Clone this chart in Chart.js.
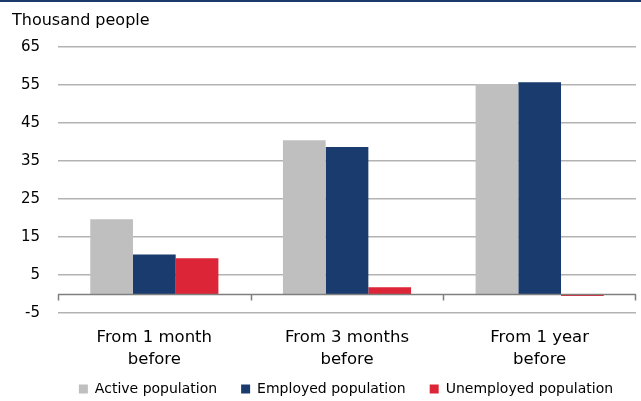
<!DOCTYPE html>
<html>
<head>
<meta charset="utf-8">
<script src="https://cdn.jsdelivr.net/npm/chart.js@4"></script>
<style>
  html, body { margin: 0; padding: 0; background: #fff; }
  #wrap { width: 641px; height: 401px; position: relative; }
</style>
</head>
<body>
<div id="wrap"><canvas id="chart"></canvas></div>
<script>
// categories and series (thousand people)
var categories = [["From 1 month", "before"], ["From 3 months", "before"], ["From 1 year", "before"]];
var activePop = [19.7, 40.5, 55.3];
var employedPop = [10.4, 38.7, 55.8];
var unemployedPop = [9.4, 1.8, -0.5];
var yMin = -5, yMax = 65, yStep = 10;

var FONT = "'DejaVu Sans', sans-serif";

// zero line, category ticks and the top rule
var extras = {
    id: "extras",
    afterUpdate: function(chart) {
        // pull the legend row up and a bit to the right, like the original
        var lg = chart.legend;
        if (lg) {
            lg.top -= 13;
            lg.left += 22;
            lg.right += 22;
        }
    },
    beforeDraw: function(chart) {
        var ctx = chart.ctx;
        ctx.save();
        ctx.fillStyle = "#1a3a6c";
        ctx.fillRect(0, 0, chart.width, 2);
        ctx.restore();
    },
    afterDatasetsDraw: function(chart) {
        var ctx = chart.ctx;
        var x = chart.scales.x, y = chart.scales.y;
        var y0 = Math.round(y.getPixelForValue(0)) + 0.5;
        ctx.save();
        ctx.strokeStyle = "#7f7f7f";
        ctx.lineWidth = 1.5;
        ctx.beginPath();
        ctx.moveTo(x.left, y0);
        ctx.lineTo(x.right, y0);
        var n = categories.length;
        for (var i = 0; i <= n; i++) {
            var px = Math.round(x.left + (x.right - x.left) * i / n) + 0.5;
            if (i == n) px -= 1;
            ctx.moveTo(px, y0);
            ctx.lineTo(px, y0 + 6);
        }
        ctx.stroke();
        ctx.restore();
    }
};

var ctx = document.getElementById("chart").getContext("2d");
var chart = new Chart(ctx, {
    type: "bar",
    data: {
        labels: categories,
        datasets: [
            { label: "Active population", data: activePop, backgroundColor: "#bfbfbf" },
            { label: "Employed population", data: employedPop, backgroundColor: "#1a3b6d" },
            { label: "Unemployed population", data: unemployedPop, backgroundColor: "#dc2536" }
        ]
    },
    options: {
        responsive: true,
        maintainAspectRatio: false,
        animation: false,
        layout: { padding: { left: 12, right: 5, top: 6, bottom: 2 } },
        datasets: { bar: { categoryPercentage: 0.665, barPercentage: 1.0, borderWidth: 0 } },
        plugins: {
            title: {
                display: true,
                text: "Thousand people",
                align: "start",
                color: "#000",
                font: { family: FONT, size: 16, weight: "normal" },
                padding: { top: 5, bottom: 17 }
            },
            legend: {
                position: "bottom",
                maxHeight: 28,
                labels: {
                    color: "#000",
                    font: { family: FONT, size: 14 },
                    boxWidth: 9,
                    boxHeight: 9,
                    padding: 24
                }
            },
            tooltip: { enabled: false }
        },
        scales: {
            x: {
                afterFit: function(scale) { scale.height = 58; },
                grid: { display: false, drawTicks: false },
                border: { display: false },
                ticks: { color: "#000", font: { family: FONT, size: 16.5, lineHeight: 1.33 }, padding: 14, maxRotation: 0 }
            },
            y: {
                min: yMin,
                max: yMax,
                afterFit: function(scale) { scale.width = 46; },
                grid: { color: "#b3b3b3", lineWidth: 1.5, drawTicks: false },
                border: { display: false },
                ticks: {
                    stepSize: yStep,
                    color: "#000",
                    padding: 18,
                    font: { family: FONT, size: 15 }
                }
            }
        }
    },
    plugins: [extras]
});
</script>
</body>
</html>
